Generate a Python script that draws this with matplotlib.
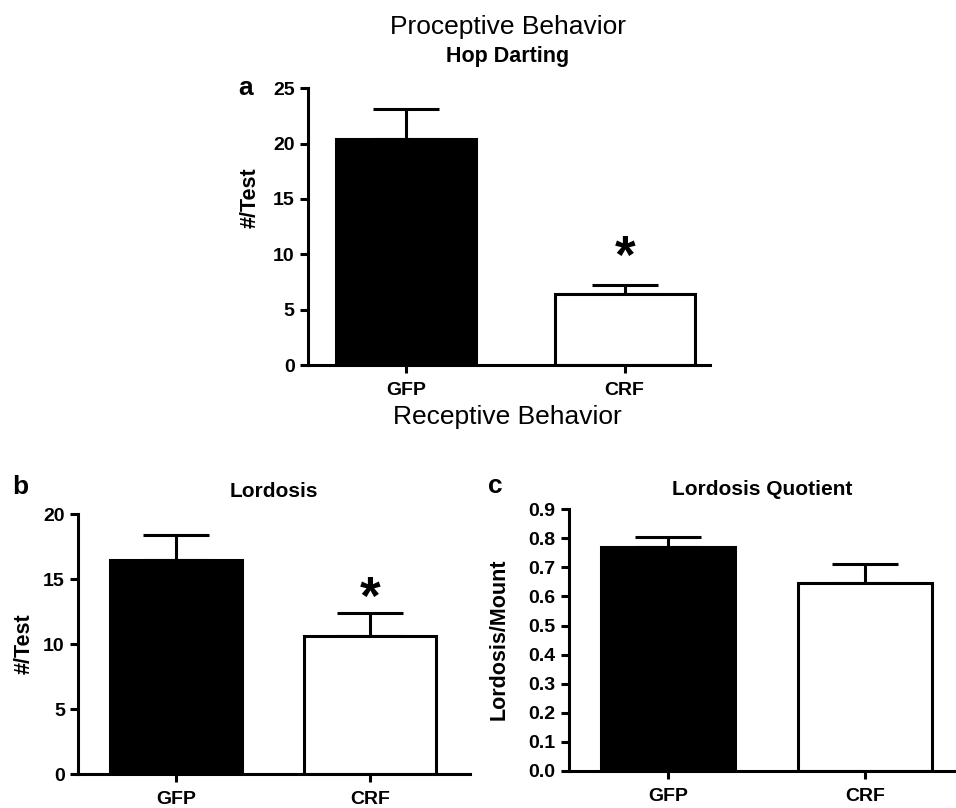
import matplotlib
matplotlib.use("Agg")
import matplotlib.pyplot as plt

plt.rcParams['font.family'] = ['Liberation Sans', 'DejaVu Sans']

groups = ['GFP', 'CRF']
hop_mean = [20.4, 6.4]
hop_sem = [2.7, 0.8]
lord_mean = [16.5, 10.6]
lord_sem = [1.9, 1.8]
lq_mean = [0.77, 0.645]
lq_sem = [0.035, 0.067]


def bar_panel(ax, means, sems, width, xlim, ylim, yticks, ylabel, fmt,
              label_xy):
    ax.bar([0, 1], means, width=width, color=['black', 'white'],
           edgecolor='black', linewidth=2.2, zorder=2)
    ax.errorbar([0, 1], means, yerr=[[0, 0], sems], fmt='none',
                ecolor='black', elinewidth=2.2, capsize=24, capthick=2.2,
                zorder=1)
    ax.set_xlim(*xlim)
    ax.set_ylim(*ylim)
    ax.set_xticks([0, 1])
    ax.set_xticklabels(groups)
    ax.set_yticks(yticks)
    ax.set_yticklabels([fmt.format(t) for t in yticks])
    ax.set_ylabel(ylabel, fontsize=15.5, fontweight='bold')
    ax.yaxis.set_label_coords(*label_xy)
    for s in ['top', 'right']:
        ax.spines[s].set_visible(False)
    for s in ['left', 'bottom']:
        ax.spines[s].set_linewidth(2.2)
    ax.tick_params(width=2.2, length=6, labelsize=14)
    ax.tick_params(axis='x', pad=6)
    for lab in ax.get_xticklabels() + ax.get_yticklabels():
        lab.set_fontweight('bold')


fig = plt.figure(figsize=(9.56, 8.08), dpi=100)

ax_a = fig.add_axes([0.322, 0.548, 0.4205, 0.343])
bar_panel(ax_a, hop_mean, hop_sem, 0.64, (-0.45, 1.39), (0, 25),
          [0, 5, 10, 15, 20, 25], '#/Test', '{:g}', (-0.117, 0.606))
ax_a.text(1, hop_mean[1] + hop_sem[1] + 0.1, '*', ha='center', va='bottom',
          fontsize=38, fontweight='bold')

ax_b = fig.add_axes([0.0816, 0.042, 0.410, 0.3218])
bar_panel(ax_b, lord_mean, lord_sem, 0.68, (-0.505, 1.515), (0, 20),
          [0, 5, 10, 15, 20], '#/Test', '{:g}', (-0.11, 0.5))
ax_b.text(1, lord_mean[1] + lord_sem[1] - 0.95, '*', ha='center',
          va='bottom', fontsize=38, fontweight='bold')
ax_b.set_title('Lordosis', fontsize=15, fontweight='bold', pad=12)

ax_c = fig.add_axes([0.595, 0.0458, 0.404, 0.324])
bar_panel(ax_c, lq_mean, lq_sem, 0.68, (-0.503, 1.457), (0, 0.9),
          [i / 10 for i in range(10)], 'Lordosis/Mount', '{:.1f}',
          (-0.153, 0.504))
ax_c.set_title('Lordosis Quotient', fontsize=15, fontweight='bold', pad=10)

fig.text(0.531, 0.981, 'Proceptive Behavior', ha='center', va='top',
         fontsize=19)
fig.text(0.531, 0.943, 'Hop Darting', ha='center', va='top',
         fontsize=15.5, fontweight='bold')
fig.text(0.531, 0.4845, 'Receptive Behavior', ha='center', va='center',
         fontsize=19)
fig.text(0.2565, 0.891, 'a', ha='center', va='center', fontsize=19,
         fontweight='bold')
fig.text(0.021, 0.397, 'b', ha='center', va='center', fontsize=19,
         fontweight='bold')
fig.text(0.518, 0.398, 'c', ha='center', va='center', fontsize=19,
         fontweight='bold')

fig.savefig('out.png', dpi=100)
